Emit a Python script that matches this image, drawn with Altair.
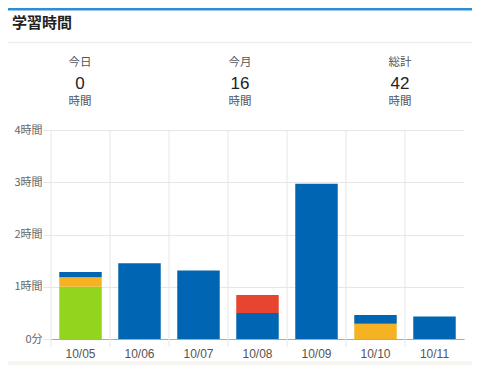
import altair as alt
import pandas as pd

# ---- data ----
dates = ["10/05", "10/06", "10/07", "10/08", "10/09", "10/10", "10/11"]
subjects = ["科目A", "科目B", "科目C", "科目D"]
subject_colors = ["#93d41e", "#f5b323", "#0066b3", "#e84530"]
hours_a = [1.00, 0, 0, 0, 0, 0, 0]
hours_b = [0.18, 0, 0, 0, 0, 0.29, 0]
hours_c = [0.10, 1.45, 1.31, 0.50, 2.97, 0.17, 0.43]
hours_d = [0, 0, 0, 0.34, 0, 0, 0]

y_ticks = [0, 1, 2, 3, 4]

title_text = "学習時間"
stat_labels = ["今日", "今月", "総計"]
stat_values = ["0", "16", "42"]
stat_unit = "時間"

rows = []
for si, (name, vals) in enumerate(zip(subjects, [hours_a, hours_b, hours_c, hours_d])):
    for d, v in zip(dates, vals):
        if v > 0:
            rows.append({"date": d, "subject": name, "hours": v, "order": si})
bars_df = pd.DataFrame(rows)
dates_df = pd.DataFrame({"date": dates})
one = pd.DataFrame({"a": [0]})

JP = "Noto Sans CJK JP"
LAT = "Liberation Sans, Noto Sans CJK JP"

W, H = 413, 209
PL, PT, PR, PB = 43, 122, 8, 26

x_axis = alt.Axis(title=None, labelAngle=0, ticks=False, grid=False,
                  bandPosition=0.5,
                  domain=True, domainColor="#aaaaaa", labelPadding=9,
                  labelColor="#555555", labelFontSize=12, labelFont=LAT)
x_scale = alt.Scale(paddingInner=0, paddingOuter=0)

# decorations
beige = alt.Chart(one).mark_rect(color="#f6f5f0").encode(
    x=alt.value(-PL), x2=alt.value(W + PR), y=alt.value(H + 22), y2=alt.value(H + PB))
top_line = alt.Chart(one).mark_rule(color="#2b8fd6", strokeWidth=2.5).encode(
    x=alt.value(-PL), x2=alt.value(W + PR), y=alt.value(-PT + 1.2))
sep_line = alt.Chart(one).mark_rule(color="#eeeeee", strokeWidth=1.5).encode(
    x=alt.value(-PL), x2=alt.value(W + PR), y=alt.value(-87.5))
title = alt.Chart(one).mark_text(text=title_text, font=JP, fontSize=15, fontWeight="bold",
                                 align="left", baseline="middle", color="#222222").encode(
    x=alt.value(-39), y=alt.value(-107))

stat_layers = []
for i, (lab, val) in enumerate(zip(stat_labels, stat_values)):
    cx = 29 + 160 * i
    stat_layers.append(alt.Chart(one).mark_text(text=lab, font=JP, fontSize=11.5, color="#555555",
                                                baseline="middle").encode(
        x=alt.value(cx), y=alt.value(-67)))
    stat_layers.append(alt.Chart(one).mark_text(text=val, font=LAT, fontSize=17, color="#222222",
                                                baseline="middle").encode(
        x=alt.value(cx), y=alt.value(-46)))
    stat_layers.append(alt.Chart(one).mark_text(text=stat_unit, font=JP, fontSize=11.5, color="#555555",
                                                baseline="middle").encode(
        x=alt.value(cx), y=alt.value(-28)))

bars = alt.Chart(bars_df).mark_bar(width={"band": 0.72}).encode(
    x=alt.X("date:N", sort=dates, scale=x_scale, axis=x_axis),
    y=alt.Y("hours:Q", stack="zero",
            scale=alt.Scale(domain=[0, 4], nice=False),
            axis=alt.Axis(title=None, values=y_ticks, grid=True, gridColor="#e6e6e6",
                          ticks=True, tickColor="#e6e6e6", tickSize=8, domain=False,
                          labelPadding=1, labelColor="#666666", labelFontSize=11,
                          labelFont=JP,
                          labelExpr="datum.value == 0 ? '0分' : datum.value + '時間'")),
    color=alt.Color("subject:N", scale=alt.Scale(domain=subjects, range=subject_colors), legend=None),
    order=alt.Order("order:Q", sort="ascending"),
)

vgrid = alt.Chart(dates_df).mark_rule(color="#e6e6e6", strokeWidth=1).encode(
    x=alt.X("date:N", sort=dates, bandPosition=0, scale=x_scale, axis=x_axis),
    y=alt.value(0), y2=alt.value(H + 8))

chart = alt.layer(beige, top_line, sep_line, title, *stat_layers, vgrid, bars).properties(
    width=W, height=H,
    autosize=alt.AutoSizeParams(type="none"),
    padding={"left": PL, "top": PT, "right": PR, "bottom": PB},
    background="white",
).configure_view(stroke=None)

chart.save("out.html", embed_options={"renderer": "svg", "actions": False})
